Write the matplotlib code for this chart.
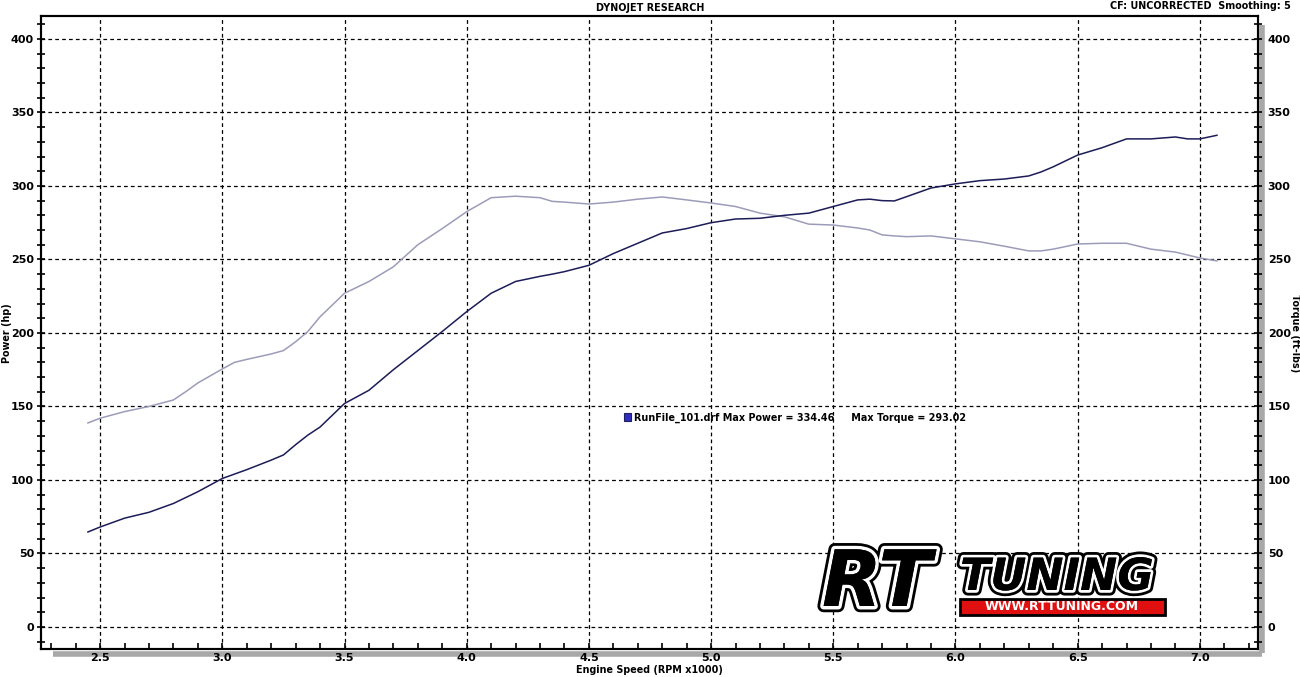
#!/usr/bin/env python3
import matplotlib
matplotlib.use("Agg")
import matplotlib.pyplot as plt
import matplotlib.patches as patches
import matplotlib.patheffects as pe
from matplotlib.ticker import MultipleLocator

# Dyno run data (RPM x1000)
rpm = [2.45, 2.5, 2.6, 2.7, 2.8, 2.85, 2.9, 3.0, 3.05, 3.1, 3.2, 3.25, 3.3, 3.35, 3.4,
       3.5, 3.6, 3.7, 3.8, 3.9, 4.0, 4.1, 4.2, 4.3, 4.35, 4.4, 4.5, 4.6, 4.7, 4.8,
       4.9, 5.0, 5.1, 5.2, 5.3, 5.4, 5.5, 5.6, 5.65, 5.7, 5.75, 5.8, 5.9, 6.0, 6.1,
       6.2, 6.3, 6.35, 6.4, 6.5, 6.6, 6.7, 6.8, 6.9, 6.95, 7.0, 7.07]
power = [64.6, 68.0, 74.0, 78.0, 84.0, 88.0, 92.0, 101.0, 104.0, 107.0, 113.5, 117.0, 124.0, 130.5, 136.0,
         152.0, 161.0, 175.0, 188.0, 201.0, 214.5, 227.0, 235.0, 238.5, 240.0, 241.7, 246.0, 254.0, 261.0, 268.0,
         271.0, 275.0, 277.5, 278.0, 280.0, 281.5, 286.0, 290.5, 291.0, 290.0, 289.8, 292.7, 298.6, 301.4, 303.6,
         304.7, 306.8, 309.5, 313.0, 321.0, 326.0, 332.0, 332.0, 333.3, 332.0, 332.0, 334.46]
torque = [138.8, 142.0, 146.5, 150.0, 154.4, 160.0, 166.0, 175.5, 180.0, 182.0, 185.7, 188.0, 194.0, 201.0, 211.0,
          227.0, 235.0, 245.0, 260.0, 271.0, 282.5, 292.0, 293.02, 292.0, 289.5, 289.0, 287.7, 289.0, 291.0, 292.5,
          290.5, 288.4, 286.0, 281.5, 279.0, 274.0, 273.4, 271.4, 270.0, 266.7, 266.0, 265.5, 266.0, 264.0, 262.0,
          259.0, 255.8, 255.8, 257.0, 260.5, 261.0, 261.0, 257.0, 255.0, 253.0, 251.0, 249.0]

W, H = 1300, 677


def px(x, y):
    return x / W, 1 - y / H


fig = plt.figure(figsize=(13, 6.77), dpi=100)
ax = fig.add_axes([41 / W, 1 - 649 / H, (1258 - 41) / W, (649 - 16) / H])

ax.plot(rpm, torque, color="#9c9cba", lw=1.1, zorder=3)
ax.plot(rpm, power, color="#1c1c58", lw=1.1, zorder=4)

ax.set_xlim(2.258, 7.238)
ax.set_ylim(-15, 415.6)
ax.xaxis.set_major_locator(MultipleLocator(0.5))
ax.xaxis.set_minor_locator(MultipleLocator(0.1))
ax.xaxis.set_major_formatter(plt.FuncFormatter(lambda v, p: f"{v:.1f}"))
ax.grid(True, which="major", color="black", lw=0.9, linestyle=(0, (3, 2.5)))

# right axis mirrors the left one (torque scale)
ax2 = ax.twinx()
ax2.set_ylim(ax.get_ylim())
for a, side_pad in ((ax, 2), (ax2, 4)):
    a.yaxis.set_major_locator(MultipleLocator(50))
    a.yaxis.set_minor_locator(MultipleLocator(10))
    a.tick_params(axis="y", which="both", direction="inout", length=6, width=1.2,
                  pad=side_pad, labelsize=8)
ax.tick_params(axis="x", which="both", direction="in", length=4, width=1.2, pad=3, labelsize=8)
for lab in ax.get_xticklabels() + ax.get_yticklabels() + ax2.get_yticklabels():
    lab.set_fontweight("bold")
for a in (ax, ax2):
    for s in a.spines.values():
        s.set_linewidth(1.5)

# gray shadow on right and bottom edges
ax.plot([1.003, 1.003], [-0.006, 0.985], transform=ax.transAxes, color="#a8a8a8",
        lw=4, clip_on=False, zorder=0, solid_capstyle="butt")
ax.plot([0.01, 1.003], [-0.008, -0.008], transform=ax.transAxes, color="#a8a8a8",
        lw=4, clip_on=False, zorder=0, solid_capstyle="butt")

label_font = dict(fontsize=6.9, fontweight="bold")
ax.set_xlabel("Engine Speed (RPM x1000)", labelpad=1, **label_font)
fig.text(*px(7, 333), "Power (hp)", rotation=90, ha="center", va="center", **label_font)
fig.text(*px(1295.5, 333), "Torque (ft-lbs)", rotation=270, ha="center", va="center", **label_font)
fig.text(*px(650, 8), "DYNOJET RESEARCH", ha="center", va="center", **label_font)
fig.text(*px(1291, 6), "CF: UNCORRECTED  Smoothing: 5", ha="right", va="center", **label_font)

# legend entry
sq = patches.Rectangle(px(624, 421), 7 / W, 8 / H, transform=fig.transFigure,
                       fc="#2f2fbf", ec="#202060", lw=0.8)
fig.patches.append(sq)
fig.text(*px(634, 418), "RunFile_101.drf Max Power = 334.46     Max Torque = 293.02",
         ha="left", va="center", **label_font)

# RT Tuning logo (approximation)
logo_font = dict(color="black", fontweight="bold", style="italic", family="DejaVu Sans")
t1 = fig.text(*px(822, 606), "RT", ha="left", va="baseline", fontsize=56, **logo_font)
t1.set_path_effects([pe.withStroke(linewidth=9, foreground="black"),
                     pe.withStroke(linewidth=5, foreground="white"), pe.Normal()])
t2 = fig.text(*px(960, 599), "TUNING", ha="left", va="bottom", fontsize=32, **logo_font)
t2.set_path_effects([pe.withStroke(linewidth=8, foreground="black"),
                     pe.withStroke(linewidth=4, foreground="white"), pe.Normal()])
bar = patches.Rectangle(px(960, 615), 205 / W, 16 / H, transform=fig.transFigure,
                        fc="#e01010", ec="black", lw=2)
fig.patches.append(bar)
fig.text(*px(1062, 607), "WWW.RTTUNING.COM", ha="center", va="center", color="white",
         fontsize=9, fontweight="bold")

fig.savefig("out.png", dpi=100)
